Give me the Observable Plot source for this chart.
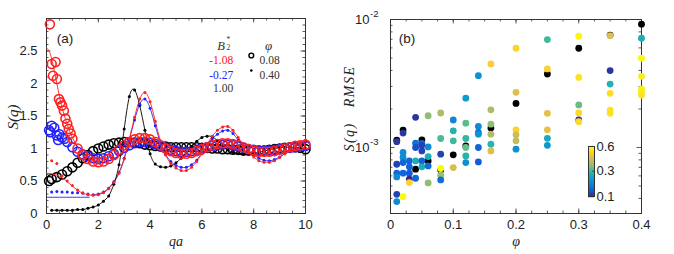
<!DOCTYPE html>
<html><head><meta charset="utf-8">
<script src="https://cdn.jsdelivr.net/npm/d3@7"></script>
<script src="https://cdn.jsdelivr.net/npm/@observablehq/plot@0.6"></script>
<style>
body{margin:0;background:#fff;}
#wrap{position:relative;width:674px;height:254px;overflow:hidden;background:#fff;}
</style></head><body><div id="wrap"></div>
<script>
// ---------------- Panel (a) data ----------------
const qGrid = [0.2,0.4,0.6,0.8,1.0,1.2,1.4,1.6,1.8,2.0,2.2,2.4,2.6,2.8,3.0,3.2,3.4,3.6,3.8,4.0,4.2,4.4,4.6,4.8,5.0,5.2,5.4,5.6,5.8,6.0,6.2,6.4,6.6,6.8,7.0,7.2,7.4,7.6,7.8,8.0,8.2,8.4,8.6,8.8,9.0,9.2,9.4,9.6,9.8,10.0];
// phi = 0.40 (dots)
const black40 = [0.05,0.05,0.05,0.05,0.05,0.06,0.06,0.08,0.10,0.13, 0.19,0.27,0.45,0.75,1.30,1.80,1.90,1.66,1.28,0.92, 0.76,0.72,0.71,0.73,0.78,0.85,0.93,1.03,1.11,1.17, 1.19,1.18,1.12,1.05,0.98,0.94,0.92,0.91,0.91,0.92, 0.94,0.96,0.98,1.00,1.01,1.02,1.02,1.02,1.01,1.00];
const red40 = [0.81,0.77,0.58,0.50,0.43,0.36,0.32,0.29,0.28,0.29, 0.32,0.38,0.48,0.62,0.84,1.15,1.48,1.76,1.86,1.72, 1.42,1.12,0.90,0.77,0.70,0.66,0.66,0.71,0.80,0.92, 1.06,1.19,1.28,1.33,1.34,1.28,1.17,1.05,0.95,0.87, 0.81,0.79,0.79,0.81,0.86,0.92,0.98,1.04,1.09,1.13];
const blue40 = [0.33,0.34,0.33,0.33,0.32,0.32,0.31,0.30,0.29,0.30, 0.33,0.39,0.49,0.63,0.85,1.14,1.44,1.68,1.76,1.62, 1.35,1.09,0.91,0.80,0.74,0.71,0.71,0.75,0.82,0.93, 1.05,1.15,1.22,1.27,1.28,1.23,1.13,1.04,0.96,0.90, 0.85,0.82,0.81,0.83,0.87,0.92,0.97,1.02,1.07,1.10];
// phi = 0.08 (open circles)
const red08 = [2.30,2.07,1.66,1.38,1.15,1.00,0.90,0.84,0.80,0.79, 0.80,0.84,0.90,0.98,1.05,1.10,1.14,1.16,1.16,1.14, 1.10,1.05,1.00,0.96,0.93,0.92,0.92,0.93,0.96,0.99, 1.02,1.05,1.07,1.08,1.08,1.07,1.05,1.02,0.99,0.97, 0.95,0.95,0.95,0.96,0.98,1.00,1.02,1.04,1.05,1.06];
const blue08 = [1.35,1.20,1.17,1.10,1.02,0.95,0.91,0.88,0.85,0.84, 0.85,0.88,0.92,0.96,1.01,1.05,1.08,1.10,1.10,1.09, 1.07,1.04,1.01,0.98,0.96,0.95,0.95,0.96,0.98,1.00, 1.02,1.04,1.05,1.06,1.06,1.05,1.03,1.01,0.99,0.98, 0.97,0.97,0.97,0.98,0.99,1.00,1.01,1.02,1.03,1.04];
const black08 = [0.53,0.56,0.60,0.65,0.71,0.78,0.85,0.90,0.96,1.00, 1.03,1.06,1.08,1.09,1.10,1.10,1.09,1.08,1.06,1.05, 1.04,1.03,1.03,1.02,1.02,1.02,1.02,1.02,1.02,1.01, 1.01,1.00,1.00,0.99,0.99,0.98,0.98,0.97,0.97,0.97, 0.97,0.97,0.98,0.99,1.00,1.01,1.02,1.02,1.01,0.99];
// extra low-q circles
const red08LowQ = [0.13,0.25,0.35,0.48,0.54,0.67,0.73,0.86,0.93];
const red08LowS = [2.91,2.12,2.33,1.76,1.71,1.58,1.46,1.30,1.23];
const blue08LowQ = [0.10,0.15,0.30,0.45,0.50,0.70];
const blue08LowS = [1.28,1.25,1.32,1.13,1.22,1.15];
const black08LowQ = [0.10];
const black08LowS = [0.50];
// fit lines at low q
const fitRed08Q = [0,0.1,0.2,0.3,0.4,0.5,0.6,0.8,1.0,1.2,1.5,2.0];
const fitRed08S = [2.55,2.50,2.38,2.20,2.00,1.80,1.63,1.37,1.17,1.02,0.88,0.80];
const fitRed40Q = [0,0.2,0.4,0.6,0.8,1.0,1.2,1.4,1.6,1.8];
const fitRed40S = [0.62,0.61,0.59,0.55,0.49,0.42,0.36,0.31,0.29,0.28];
const fitBlue40Q = [0,0.5,1.0,1.65];
const fitBlue40S = [0.25,0.25,0.25,0.25];

const xTicksA = [0,2,4,6,8,10];
const yTicksA = [0,0.5,1,1.5,2,2.5];
const legendB2 = ["-1.08","-0.27","1.00"];
const legendPhi = ["0.08","0.40"];

// ---------------- Panel (b) data ----------------
const phiB = [0.01,0.02,0.03,0.04,0.05,0.06,0.08,0.1,0.12,0.14,0.16,0.2,0.25,0.3,0.35,0.4];
const rmseB = [
  [1.14e-3,1.11e-3,0.74e-3,0.63e-3,0.589e-3,0.431e-3,0.378e-3],
  [1.367e-3,1.295e-3,0.914e-3,0.835e-3,0.763e-3,0.63e-3,0.413e-3],
  [0.786e-3,0.706e-3,0.63e-3,0.565e-3,0.532e-3],
  [1.72e-3,1.08e-3,1.0e-3,0.786e-3,0.677e-3,0.575e-3],
  [1.148e-3,1.075e-3,1.04e-3,0.94e-3,0.786e-3,0.706e-3],
  [1.77e-3,1.01e-3,0.85e-3,0.786e-3,0.718e-3,0.529e-3],
  [1.86e-3,1.176e-3,0.887e-3,0.668e-3,0.685e-3,0.607e-3,0.558e-3],
  [1.64e-3,1.35e-3,1.128e-3,0.876e-3,0.697e-3],
  [2.43e-3,1.55e-3,1.176e-3,1.03e-3,1.0e-3,0.86e-3,0.763e-3],
  [3.64e-3,1.46e-3,1.31e-3,1.27e-3,1.0e-3,0.772e-3],
  [4.5e-3,1.97e-3,1.417e-3,1.52e-3,1.27e-3,1.06e-3,0.94e-3],
  [5.96e-3,2.70e-3,2.21e-3,1.375e-3,1.256e-3,1.128e-3,0.97e-3],
  [6.97e-3,4.11e-3,3.75e-3,1.85e-3,1.375e-3,1.18e-3,1.04e-3],
  [7.40e-3,5.96e-3,3.53e-3,2.15e-3,1.86e-3,1.64e-3,1.59e-3],
  [7.55e-3,7.49e-3,3.99e-3,3.13e-3,2.65e-3,1.96e-3,1.85e-3],
  [9.19e-3,7.14e-3,4.98e-3,3.60e-3,2.86e-3,2.73e-3,2.57e-3]
];
// colour parameter (null = black)
const paramB = [
  [null,0.11,0.12,0.15,0.20,0.12,0.20],
  [null,0.11,0.20,0.20,0.15,0.15,0.60],
  [0.15,0.15,0.14,0.10,0.53],
  [0.11,0.16,0.13,0.27,null,0.15],
  [null,0.15,0.12,0.12,0.15,0.27],
  [0.37,0.20,0.27,null,0.16,0.37],
  [0.40,0.32,0.12,null,0.60,0.38,0.16],
  [0.19,0.28,0.31,null,0.45],
  [0.23,0.33,0.30,null,0.34,0.28,0.21],
  [0.21,0.20,0.16,0.21,0.15,0.14],
  [0.52,0.40,null,0.37,0.40,0.29,0.46],
  [0.53,0.46,null,0.53,0.43,0.42,0.21],
  [0.31,0.53,null,0.47,0.47,0.26,0.22],
  [0.59,null,0.56,0.34,0.54,0.11,0.54],
  [null,0.46,0.11,0.28,0.55,0.56,0.56],
  [null,0.27,0.60,0.58,0.58,0.58,0.56]
];
const xTicksB = [0,0.1,0.2,0.3,0.4];
const yTicksB = [1e-3,1e-2];
const yExpB = ["-3","-2"];
const yMinorB = [4e-4,5e-4,6e-4,7e-4,8e-4,9e-4,2e-3,3e-3,4e-3,5e-3,6e-3,7e-3,8e-3,9e-3];
const cbTicks = [0.1,0.3,0.6];

// ---------------- styles ----------------
const RED = "#ff2020", BLUE = "#2222ff", INK = "#333";
const PARULA = ["#352a87","#0f5cdd","#1481d6","#06a4ca","#2eb7a4","#87bf77","#d1bb59","#fec832","#f9fb0e"];
const colorScale = {type:"sqrt", domain:[0.1,0.6], interpolate: d3.piecewise(d3.interpolateRgb, PARULA)};
const H = 254;
const SANS = "Liberation Sans, Arial, sans-serif";
const SERIF = "Liberation Serif, Times New Roman, serif";

const toRows = (qs, ss) => qs.map((q, i) => ({q, s: ss[i]}));

function ticksX(vals, len, fh) {
  return [
    Plot.tickX(vals, {x: d => d, insetTop: fh - len, stroke: INK, strokeWidth: 0.8}),
    Plot.tickX(vals, {x: d => d, insetBottom: fh - len, stroke: INK, strokeWidth: 0.8})
  ];
}
function ticksY(vals, len, fw) {
  return [
    Plot.tickY(vals, {y: d => d, insetRight: fw - len, stroke: INK, strokeWidth: 0.8}),
    Plot.tickY(vals, {y: d => d, insetLeft: fw - len, stroke: INK, strokeWidth: 0.8})
  ];
}
const wrap = document.getElementById("wrap");

// ---------------- Panel (a) ----------------
const mA = {top:18, right:35, bottom:41, left:46};
const WA = 340;
const fhA = H - mA.top - mA.bottom, fwA = WA - mA.left - mA.right;
const circ = (rows, color) => Plot.dot(rows, {x:"q", y:"s", r:4.5, stroke:color, strokeWidth:1.6, fill:"none"});
const dots = (rows, color) => Plot.dot(rows, {x:"q", y:"s", r:1.5, fill:color, stroke:"none"});
const line = (rows, color) => Plot.line(rows, {x:"q", y:"s", stroke:color, strokeWidth:0.9, curve:"natural"});

const plotA = Plot.plot({
  width: WA, height: H,
  marginTop: mA.top, marginRight: mA.right, marginBottom: mA.bottom, marginLeft: mA.left,
  x: {domain:[0,10]},
  y: {domain:[0,3]},
  style: {position:"absolute", left:"0px", top:"0px", background:"transparent", fontFamily:SANS, fontSize:"13px", color:"#222", overflow:"visible"},
  marks: [
    Plot.frame({stroke: INK}),
    ...ticksX(d3.range(0, 10.01, 0.5), 2.5, fhA),
    ...ticksX(xTicksA, 4.5, fhA),
    ...ticksY(d3.range(0, 3.001, 0.1), 2.5, fwA),
    ...ticksY(yTicksA, 4.5, fwA),
    Plot.axisX({ticks: xTicksA, tickSize:0, tickPadding:6, label:null, tickFormat: d => String(d), fontSize:13}),
    Plot.axisY({ticks: yTicksA, tickSize:0, tickPadding:9, label:null, tickFormat: d => String(d), fontSize:13}),
    circ(toRows(qGrid, black08).concat(toRows(black08LowQ, black08LowS)), "#000"),
    circ(toRows(qGrid, blue08).concat(toRows(blue08LowQ, blue08LowS)), BLUE),
    line(toRows(fitBlue40Q, fitBlue40S), BLUE),
    line(toRows(qGrid, blue40).filter(d => d.q >= 1.8), BLUE),
    line(toRows(fitRed40Q, fitRed40S).concat(toRows(qGrid, red40).filter(d => d.q >= 2)), RED),
    line(toRows(fitRed08Q, fitRed08S), RED),
    line(toRows(qGrid, black40), "#000"),
    dots(toRows(qGrid, black40), "#000"),
    dots(toRows(qGrid, blue40), BLUE),
    dots(toRows(qGrid, red40), RED),
    circ(toRows(qGrid, red08).concat(toRows(red08LowQ, red08LowS)), RED),
    // labels
    Plot.text(["(a)"], {text: d => d, frameAnchor:"top-left", dx:18.5, dy:15.3, textAnchor:"middle", fontSize:13.5, fill:"#222"}),
    Plot.text(["qa"], {text: d => d, frameAnchor:"bottom", dy:32, fontFamily:SERIF, fontStyle:"italic", fontSize:14, fill:"#222"}),
    Plot.text(["S(q)"], {text: d => d, frameAnchor:"left", dx:-33, dy:1, rotate:-90, textAnchor:"middle", fontFamily:SERIF, fontStyle:"italic", fontSize:15, fill:"#222"}),
    // legend
    Plot.text(["B"], {text: d => d, frameAnchor:"top-left", dx:174.5, dy:22.7, textAnchor:"middle", fontFamily:SERIF, fontStyle:"italic", fontSize:12.5, fill:INK}),
    Plot.text(["2"], {text: d => d, frameAnchor:"top-left", dx:180, dy:26.5, textAnchor:"start", fontFamily:SERIF, fontSize:7.5, fill:INK}),
    Plot.text(["*"], {text: d => d, frameAnchor:"top-left", dx:180, dy:18.5, textAnchor:"start", fontFamily:SERIF, fontSize:7.5, fill:INK}),
    Plot.text(["φ"], {text: d => d, frameAnchor:"top-left", dx:222, dy:22.7, textAnchor:"middle", fontFamily:SERIF, fontStyle:"italic", fontSize:13, fill:INK}),
    Plot.text([legendB2[0]], {text: d => d, frameAnchor:"top-left", dx:186.7, dy:37, textAnchor:"end", fontFamily:SERIF, fontSize:11.5, fill:RED}),
    Plot.text([legendB2[1]], {text: d => d, frameAnchor:"top-left", dx:186.7, dy:52, textAnchor:"end", fontFamily:SERIF, fontSize:11.5, fill:BLUE}),
    Plot.text([legendB2[2]], {text: d => d, frameAnchor:"top-left", dx:186.7, dy:65.3, textAnchor:"end", fontFamily:SERIF, fontSize:11.5, fill:INK}),
    Plot.dot([0], {frameAnchor:"top-left", dx:204.8, dy:37, r:2.4, stroke:"#000", strokeWidth:1.4, fill:"none"}),
    Plot.dot([0], {frameAnchor:"top-left", dx:204.8, dy:52, r:1.3, fill:"#000"}),
    Plot.text([legendPhi[0]], {text: d => d, frameAnchor:"top-left", dx:213, dy:37, textAnchor:"start", fontFamily:SERIF, fontSize:11.5, fill:INK}),
    Plot.text([legendPhi[1]], {text: d => d, frameAnchor:"top-left", dx:213, dy:52, textAnchor:"start", fontFamily:SERIF, fontSize:11.5, fill:INK})
  ]
});
wrap.appendChild(plotA);

// ---------------- Panel (b) ----------------
const mB = {top:19, right:33, bottom:41, left:50};
const WB = 334;
const fhB = H - mB.top - mB.bottom, fwB = WB - mB.left - mB.right;
const ptsB = [];
phiB.forEach((p, i) => rmseB[i].forEach((v, j) => ptsB.push({phi: p, rmse: v, c: paramB[i][j]})));
const plotB = Plot.plot({
  width: WB, height: H,
  marginTop: mB.top, marginRight: mB.right, marginBottom: mB.bottom, marginLeft: mB.left,
  x: {domain:[0,0.4]},
  y: {type:"log", domain:[3.05e-4, 1e-2], axis:null},
  color: colorScale,
  style: {position:"absolute", left:"340px", top:"0px", background:"transparent", fontFamily:SANS, fontSize:"13px", color:"#222", overflow:"visible"},
  marks: [
    Plot.frame({stroke: INK}),
    ...ticksX(d3.range(0, 0.4001, 0.025), 2.5, fhB),
    ...ticksX(xTicksB, 4.5, fhB),
    ...ticksY(yMinorB, 2.5, fwB),
    ...ticksY(yTicksB, 4.5, fwB),
    Plot.axisX({ticks: xTicksB, tickSize:0, tickPadding:6, label:null, tickFormat: d => String(d), fontSize:13}),
    Plot.text(yTicksB, {y: d => d, text: () => "10", frameAnchor:"left", dx:-21, textAnchor:"end", fontSize:13, fill:"#222"}),
    Plot.text(yTicksB, {y: d => d, text: (d, i) => yExpB[i], frameAnchor:"left", dx:-20.5, dy:-6, textAnchor:"start", fontSize:9.5, fill:"#222"}),
    Plot.dot(ptsB.filter(d => d.c == null), {x:"phi", y:"rmse", r:3.4, fill:"#000"}),
    Plot.dot(ptsB.filter(d => d.c != null), {x:"phi", y:"rmse", r:3.4, fill:"c"}),
    Plot.text(["(b)"], {text: d => d, frameAnchor:"top-left", dx:16.5, dy:14.3, textAnchor:"middle", fontSize:13.5, fill:"#222"}),
    Plot.text(["φ"], {text: d => d, frameAnchor:"bottom", dy:32, fontFamily:SERIF, fontStyle:"italic", fontSize:14, fill:"#222"}),
    Plot.text(["S(q)   RMSE"], {text: d => d, frameAnchor:"left", dx:-41, dy:-8, rotate:-90, textAnchor:"middle", fontFamily:SERIF, fontStyle:"italic", fontSize:14, fill:"#222"})
  ]
});
wrap.appendChild(plotB);
plotB.querySelectorAll("text").forEach(t => { if (t.textContent.includes("RMSE")) t.setAttribute("letter-spacing", "1.5"); });

// ---------------- colour bar ----------------
const cbStops = d3.range(0.1, 0.6001, 0.0025);
const plotC = Plot.plot({
  width: 46, height: 60,
  marginTop: 5, marginBottom: 5, marginLeft: 0, marginRight: 40,
  y: {type:"sqrt", domain:[0.1,0.6]},
  color: colorScale,
  style: {position:"absolute", left:"588px", top:"141px", background:"transparent", fontFamily:SANS, fontSize:"13px", color:"#222", overflow:"visible"},
  marks: [
    Plot.ruleY(cbStops, {y: d => d, stroke: d => d, strokeWidth: 1.5}),
    Plot.frame({stroke: INK}),
    Plot.tickY(cbTicks, {y: d => d, insetLeft: 4, stroke: INK, strokeWidth: 0.8}),
    Plot.axisY({ticks: cbTicks, anchor:"right", tickSize:0, tickPadding:2, label:null, tickFormat: d => String(d), fontSize:13})
  ]
});
wrap.appendChild(plotC);
</script></body></html>
